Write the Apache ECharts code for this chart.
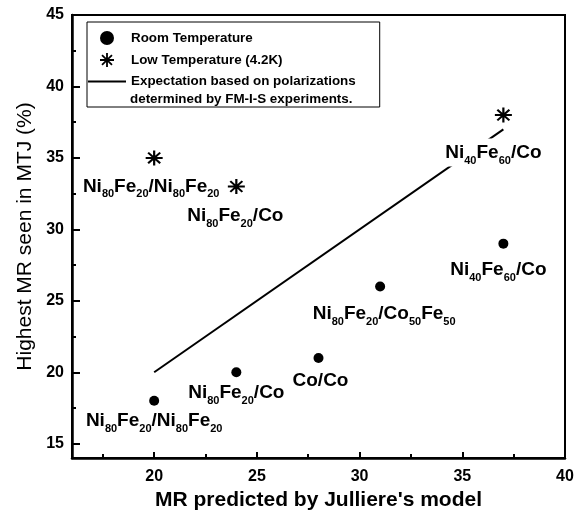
<!DOCTYPE html>
<html>
<head>
<meta charset="utf-8">
<script src="https://cdn.jsdelivr.net/npm/echarts@6/dist/echarts.min.js"></script>
<style>
html, body { margin: 0; padding: 0; background: #fff; }
#chart { width: 579px; height: 512px; }
</style>
</head>
<body>
<div id="chart"></div>
<script>
// data
const roomX = [20, 24, 28, 31, 37];
const roomY = [18, 20, 21, 26, 29];
const roomNames = [
    '{n|Ni}{s|80}{n|Fe}{s|20}{n|/Ni}{s|80}{n|Fe}{s|20}',
    '{n|Ni}{s|80}{n|Fe}{s|20}{n|/Co}',
    '{n|Co/Co}',
    '{n|Ni}{s|80}{n|Fe}{s|20}{n|/Co}{s|50}{n|Fe}{s|50}',
    '{n|Ni}{s|40}{n|Fe}{s|60}{n|/Co}'
];
const lowX = [20, 24, 37];
const lowY = [35, 33, 38];
const lowNames = [
    '{n|Ni}{s|80}{n|Fe}{s|20}{n|/Ni}{s|80}{n|Fe}{s|20}',
    '{n|Ni}{s|80}{n|Fe}{s|20}{n|/Co}',
    '{n|Ni}{s|40}{n|Fe}{s|60}{n|/Co}'
];
const expectX = [20, 37];
const expectY = [20, 37];

const xLabels = [20, 25, 30, 35, 40];
const xMinor = [17.5, 22.5, 27.5, 32.5, 37.5];
const yLabels = [15, 20, 25, 30, 35, 40, 45];
const yMinor = [17.5, 22.5, 27.5, 32.5, 37.5, 42.5];

// where each label sits below its point (px)
const roomOffsets = [[0, 3], [0, 4], [2, 6], [4, 10], [-5, 9]];
const lowOffsets = [[-3, 7], [-1, 8], [-10, 16]];

const FONT = '"Liberation Sans", Arial, sans-serif';

const rich = {
    n: {fontFamily: FONT, fontSize: 19, fontWeight: 'bold', color: '#000', lineHeight: 24, verticalAlign: 'middle'},
    s: {fontFamily: FONT, fontSize: 11, fontWeight: 'bold', color: '#000', height: 8, verticalAlign: 'bottom'}
};

// asterisk made of four filled bars
const star = 'path://M-1.3,-10L1.3,-10L1.3,10L-1.3,10Z M-10,-1.3L10,-1.3L10,1.3L-10,1.3Z ' +
    'M-8,-6.2L-6.2,-8L8,6.2L6.2,8Z M6.2,-8L8,-6.2L-6.2,8L-8,6.2Z';

function points(xs, ys, names, offsets) {
    return xs.map((x, i) => ({
        value: [x, ys[i]],
        label: {formatter: names[i], offset: offsets[i]}
    }));
}

const NAME_ROOM = 'Room Temperature';
const NAME_LOW = 'Low Temperature (4.2K)';
const NAME_EXP = 'Expectation based on polarizations';

const chart = echarts.init(document.getElementById('chart'));

const axisCommon = {
    axisLine: {show: true, onZero: false, lineStyle: {color: '#000', width: 2.5}},
    splitLine: {show: false},
    axisLabel: {color: '#000', fontFamily: FONT, fontWeight: 'bold', fontSize: 16, margin: 8}
};

const labelBase = {
    show: true,
    position: 'bottom',
    distance: 0,
    color: '#000',
    rich: rich
};

const option = {
    animation: false,
    backgroundColor: '#fff',
    grid: {
        left: 72, right: 14, top: 15, bottom: 54,
        outerBoundsMode: 'none',
        show: true, borderColor: '#000', borderWidth: 2
    },
    legend: {
        left: 87,
        top: 22,
        orient: 'vertical',
        data: [
            NAME_ROOM,
            NAME_LOW,
            {name: NAME_EXP, itemStyle: {opacity: 0}}
        ],
        itemWidth: 38,
        itemHeight: 14,
        itemGap: 8,
        itemTextGap: 2,
        padding: [9, 24, 19, 0],
        borderColor: '#000',
        borderWidth: 1,
        textStyle: {color: '#000', fontFamily: FONT, fontWeight: 'bold', fontSize: 13.4}
    },
    graphic: [{
        type: 'text',
        left: 130,
        top: 93,
        style: {text: 'determined by FM-I-S experiments.', fill: '#000', font: 'bold 13.4px ' + FONT}
    }],
    xAxis: [
        Object.assign({}, axisCommon, {
            type: 'value', min: 16, max: 40, position: 'bottom',
            name: "MR predicted by Julliere's model",
            nameLocation: 'middle',
            nameGap: 29,
            nameTextStyle: {color: '#000', fontFamily: FONT, fontWeight: 'bold', fontSize: 21},
            axisTick: {inside: true, length: 6, customValues: xLabels, lineStyle: {color: '#000', width: 2}},
            axisLabel: Object.assign({}, axisCommon.axisLabel, {customValues: xLabels, margin: 11})
        }),
        {
            type: 'value', min: 16, max: 40, position: 'bottom', offset: 0,
            axisLine: {show: false},
            splitLine: {show: false},
            axisLabel: {show: false},
            axisTick: {inside: true, length: 4, customValues: xMinor, lineStyle: {color: '#000', width: 2}}
        }
    ],
    yAxis: [
        Object.assign({}, axisCommon, {
            type: 'value', min: 14, max: 45, position: 'left',
            name: 'Highest MR seen in MTJ (%)',
            nameLocation: 'middle',
            nameGap: 35,
            nameTextStyle: {color: '#000', fontFamily: FONT, fontSize: 21},
            axisTick: {inside: true, length: 8, customValues: yLabels, lineStyle: {color: '#000', width: 2}},
            axisLabel: Object.assign({}, axisCommon.axisLabel, {customValues: yLabels})
        }),
        {
            type: 'value', min: 14, max: 45, position: 'left', offset: 0,
            axisLine: {show: false},
            splitLine: {show: false},
            axisLabel: {show: false},
            axisTick: {inside: true, length: 4, customValues: yMinor, lineStyle: {color: '#000', width: 2}}
        }
    ],
    series: [
        {
            name: NAME_EXP,
            type: 'line',
            z: 2,
            symbol: 'none',
            lineStyle: {color: '#000', width: 2},
            itemStyle: {color: '#000'},
            data: expectX.map((x, i) => [x, expectY[i]])
        },
        {
            name: NAME_ROOM,
            type: 'scatter',
            z: 3,
            symbol: 'circle',
            symbolSize: 10,
            itemStyle: {color: '#000', opacity: 1},
            label: labelBase,
            data: points(roomX, roomY, roomNames, roomOffsets)
        },
        {
            name: NAME_LOW,
            type: 'scatter',
            z: 4,
            symbol: star,
            symbolSize: [17, 15],
            itemStyle: {color: '#000', opacity: 1},
            label: Object.assign({}, labelBase, {backgroundColor: '#fff', padding: [2, 3]}),
            data: points(lowX, lowY, lowNames, lowOffsets)
        }
    ]
};

chart.setOption(option);
</script>
</body>
</html>
